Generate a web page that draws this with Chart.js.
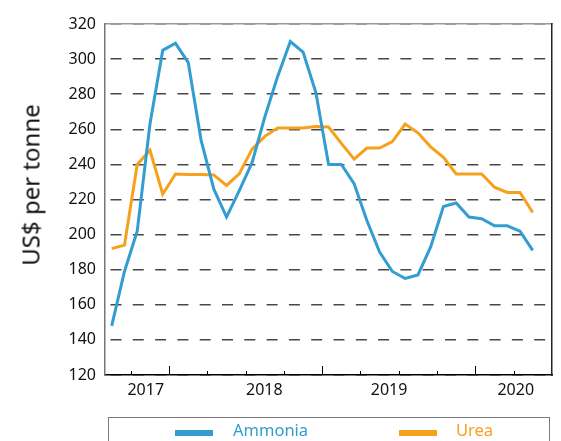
<!DOCTYPE html>
<html>
<head>
<meta charset="utf-8">
<script src="https://cdn.jsdelivr.net/npm/chart.js@4.4.1/dist/chart.umd.min.js"></script>
<style>
  body { margin: 0; background: #fff; overflow: hidden; }
  #wrap { position: relative; width: 561px; height: 441px; font-family: "Noto Sans", sans-serif; }
  #ytitle { position: absolute; left: 30px; top: 185px; transform: translate(-50%, -50%) rotate(-90deg);
            font-size: 24px; color: #111; white-space: nowrap; }
  #legend { position: absolute; left: 108px; top: 417px; width: 442px; height: 40px;
            border: 1.5px solid #7a7a7a; box-sizing: border-box; }
  .sw { position: absolute; top: 12px; width: 38px; height: 6px; }
  .lt { position: absolute; top: 4px; font-size: 16.5px; line-height: 16px; }
</style>
</head>
<body>
<div id="wrap">
  <canvas id="myChart" width="561" height="441"></canvas>
  <div id="ytitle">US$ per tonne</div>
  <div id="legend">
    <div class="sw" style="left:66px;background:#339dd1"></div>
    <div class="lt" style="left:124px;color:#339dd1">Ammonia</div>
    <div class="sw" style="left:290px;background:#f6a11c"></div>
    <div class="lt" style="left:347px;color:#f6a11c">Urea</div>
  </div>
</div>
<script>
var ammonia = [148, 179, 202, 263, 305, 309, 298, 254, 226, 210, 225, 241,
               267, 290, 310, 304, 281, 240, 240, 229, 208, 190, 179, 175,
               177, 193, 216, 218, 210, 209, 205, 205, 202, 191];
var urea = [192, 194, 240, 248, 223, 234.5, 234.3, 234.3, 234, 228, 234.6, 248.7,
            256, 260.7, 260.7, 260.7, 261.6, 261.3, 252, 243, 249.3, 249.3, 253, 263,
            258, 250, 244, 234.6, 234.6, 234.6, 227, 224, 224, 212.6];
var yearLabels = ["2017", "2018", "2019", "2020"];
var yearPos = [2.67, 11.96, 21.74, 31.67];
var quarterTicks = [1.5, 4.5, 7.5, 10.5, 13.5, 16.5, 19.5, 22.5, 25.5, 28.5, 31.5];
var majorTicks = [4.5, 16.5, 28.5];

function toPoints(arr) {
  return arr.map(function (v, i) { return {x: i, y: v}; });
}

// small marks on the inside of the bottom axis
var tickMarks = {
  id: "tickMarks",
  afterDraw: function (chart) {
    var sx = chart.scales.x, ctx = chart.ctx, bottom = chart.chartArea.bottom;
    ctx.save();
    ctx.strokeStyle = "#000";
    ctx.lineWidth = 1;
    quarterTicks.forEach(function (v) {
      var px = Math.round(sx.getPixelForValue(v)) + 0.5;
      var len = majorTicks.indexOf(v) >= 0 ? 9 : 4;
      ctx.beginPath();
      ctx.moveTo(px, bottom);
      ctx.lineTo(px, bottom - len);
      ctx.stroke();
    });
    ctx.restore();
  }
};

Chart.defaults.font.family = "'Noto Sans', sans-serif";

new Chart("myChart", {
  type: "line",
  data: {
    datasets: [{
      label: "Ammonia",
      data: toPoints(ammonia),
      borderColor: "#339dd1",
      borderWidth: 3,
      pointRadius: 0,
      tension: 0
    }, {
      label: "Urea",
      data: toPoints(urea),
      borderColor: "#f6a11c",
      borderWidth: 3,
      pointRadius: 0,
      tension: 0
    }]
  },
  options: {
    responsive: false,
    animation: false,
    layout: {padding: {top: 24, right: 9, left: 0, bottom: 0}},
    plugins: {legend: {display: false}, tooltip: {enabled: false}},
    scales: {
      x: {
        type: "linear",
        position: "bottom",
        min: -0.525,
        max: 34.51,
        afterBuildTicks: function (scale) {
          scale.ticks = yearPos.map(function (v) { return {value: v}; });
        },
        afterFit: function (scale) { scale.height = 66; },
        ticks: {
          autoSkip: false,
          maxRotation: 0,
          padding: 6,
          color: "#111",
          font: {size: 16},
          callback: function (value, index) { return yearLabels[index]; }
        },
        grid: {display: false, drawTicks: false},
        border: {display: true, color: "#000", width: 1.5}
      },
      x2: {
        type: "linear",
        position: "top",
        z: -1,
        afterFit: function (scale) { scale.height = 0; },
        ticks: {display: false},
        grid: {display: false, drawTicks: false},
        border: {display: true, color: "#9a9a9a", width: 1.5}
      },
      y: {
        min: 120,
        max: 320,
        afterFit: function (scale) { scale.width = 105; },
        ticks: {stepSize: 20, padding: 9, color: "#111", font: {size: 16}},
        grid: {color: "rgba(0,0,0,0.72)", lineWidth: 1.5, drawTicks: false},
        border: {display: true, color: "#777", width: 1.5, dash: [11, 11.3], dashOffset: 17.3}
      },
      y2: {
        position: "right",
        afterFit: function (scale) { scale.width = 0; },
        ticks: {display: false},
        grid: {display: false, drawTicks: false},
        border: {display: true, color: "#222", width: 1.5}
      }
    }
  },
  plugins: [tickMarks]
});
</script>
</body>
</html>
